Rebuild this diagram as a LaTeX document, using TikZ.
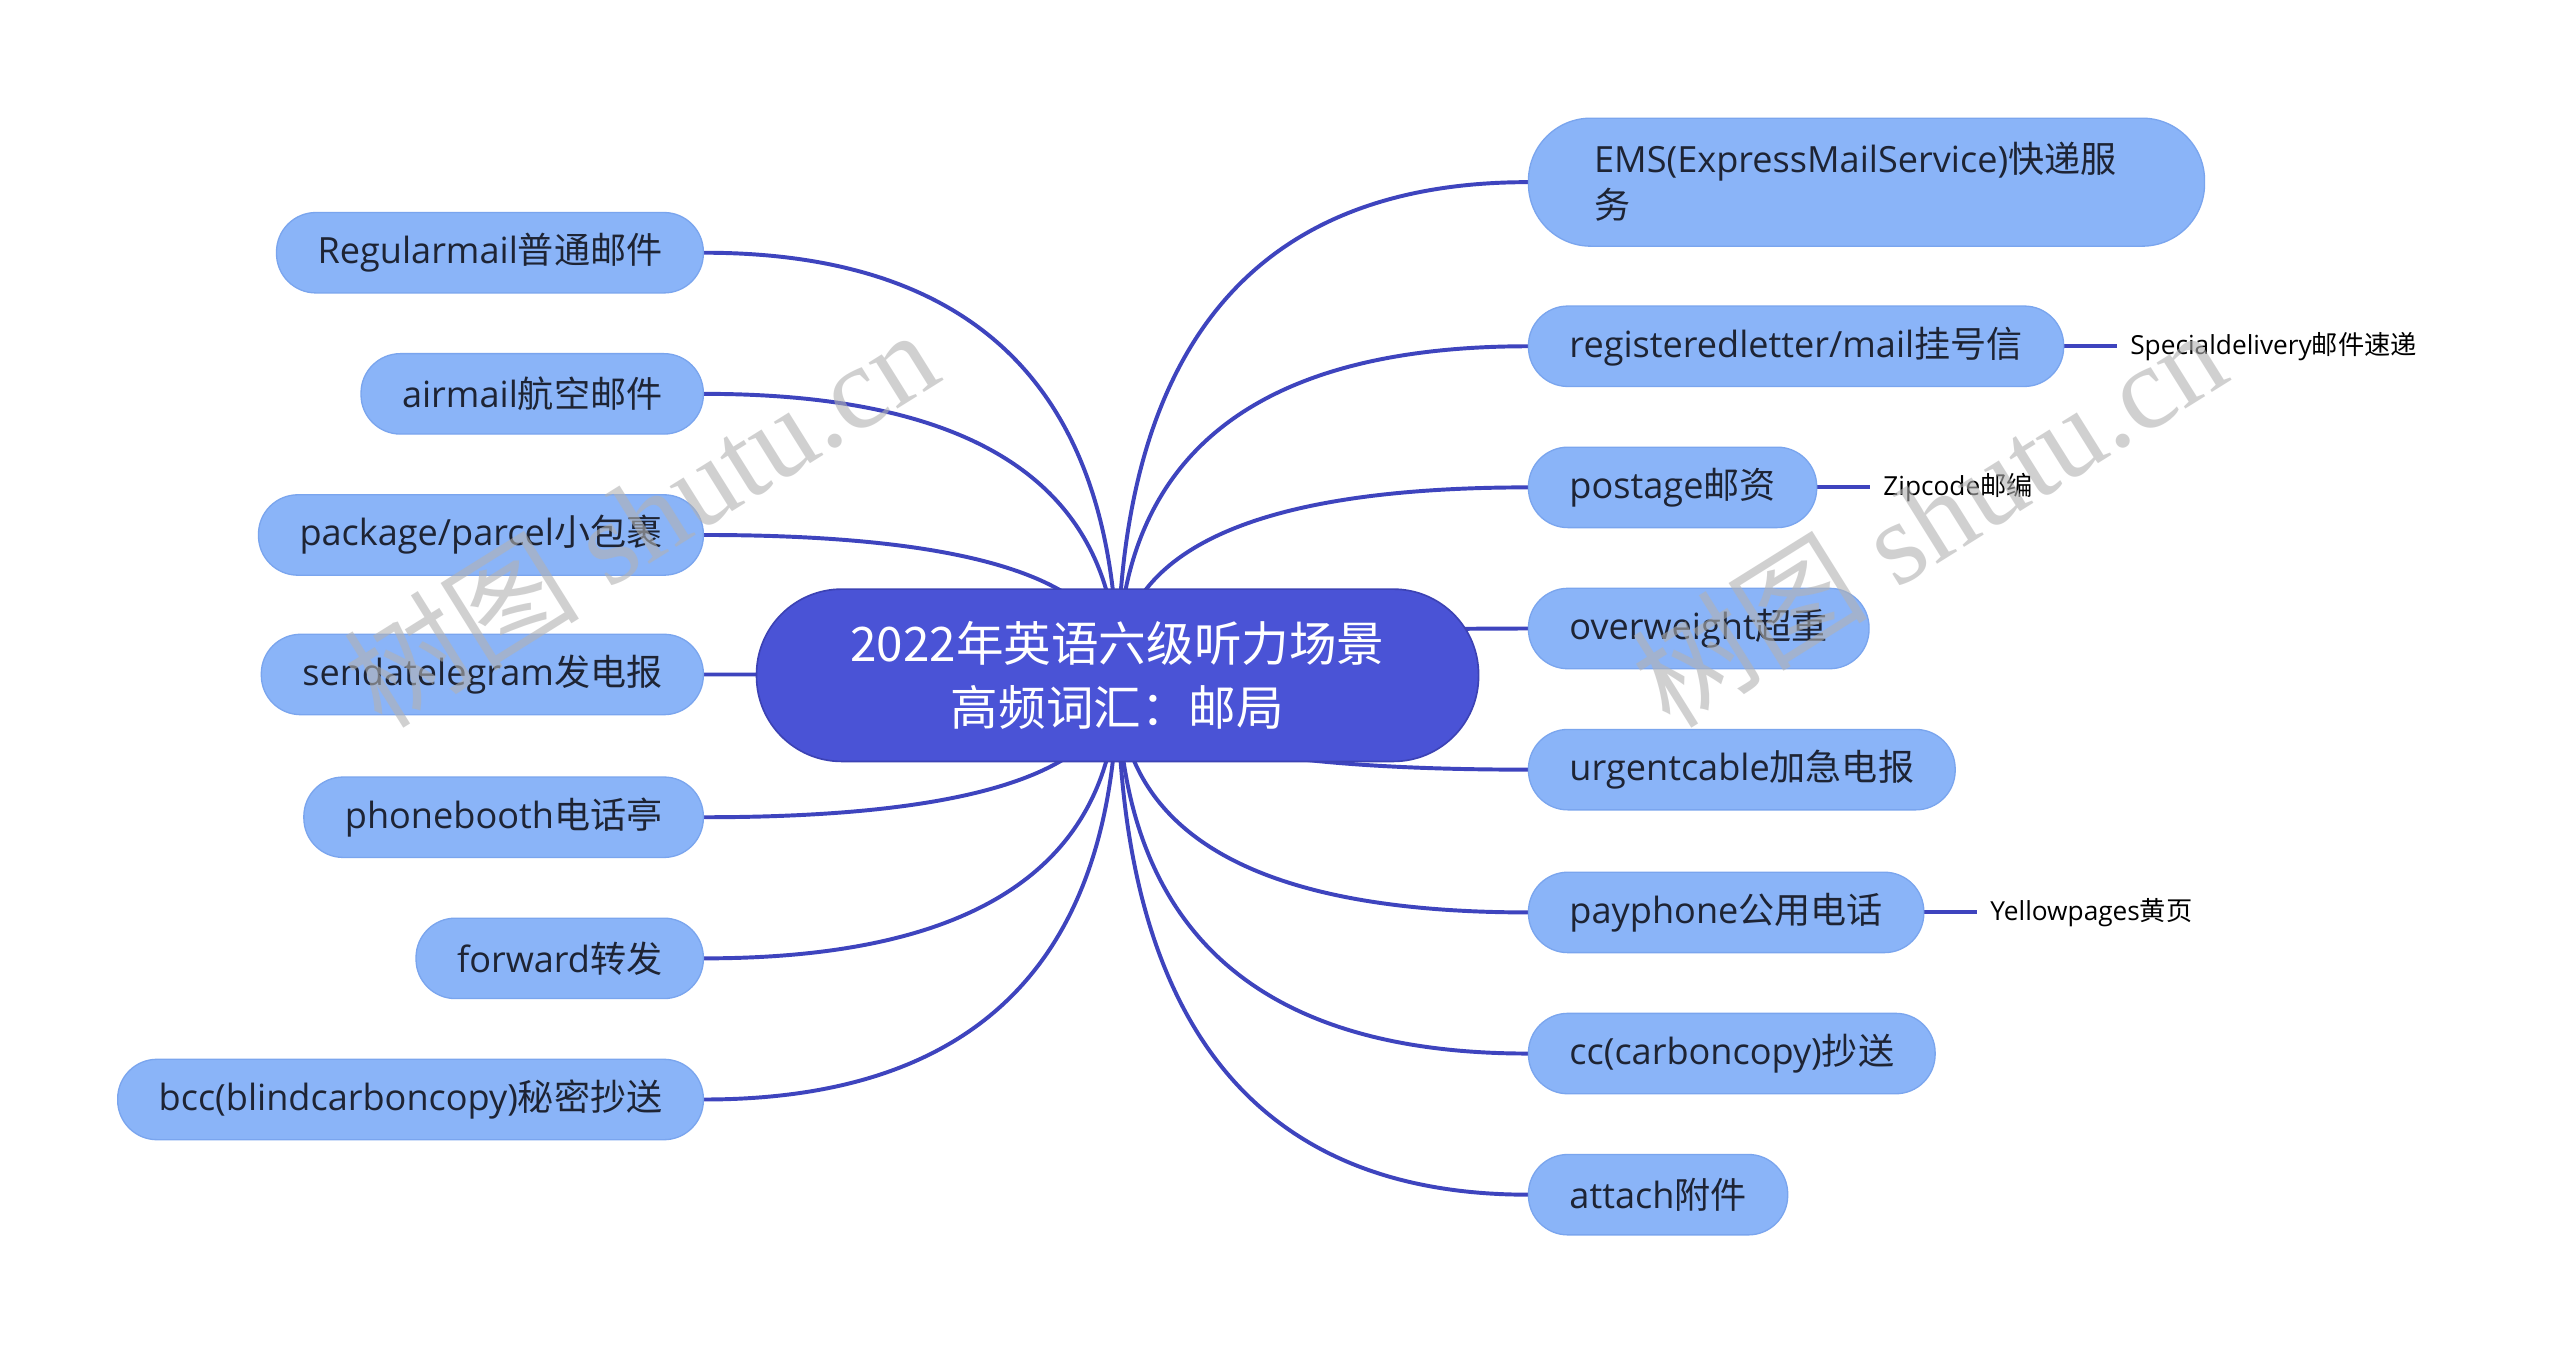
\documentclass[tikz,border=0pt]{standalone}
\usepackage{fontspec}
\setmainfont{Open Sans}
\newfontfamily\cjk{Noto Sans CJK SC}
\newfontfamily\markfont{Liberation Serif}
\usepackage{xcolor}
\usetikzlibrary{positioning,calc,backgrounds}

\definecolor{centrefill}{RGB}{74,83,214}
\definecolor{centreedge}{RGB}{60,66,180}
\definecolor{topicfill}{RGB}{138,180,248}
\definecolor{topicedge}{RGB}{122,165,238}
\definecolor{linkblue}{RGB}{62,68,190}
\definecolor{inkdark}{RGB}{30,36,52}

\newcommand{\zh}[1]{{\cjk #1}}

\begin{document}
\begin{tikzpicture}[x=1pt, y=-1pt]
    \tikzstyle{centre} = [rectangle, draw=centreedge, line width=1pt, fill=centrefill,
        text=white, align=center, minimum width=440pt, minimum height=105pt,
        rounded corners=52pt, font=\fontsize{29}{39}\selectfont]
    \tikzstyle{topic} = [rectangle, draw=topicedge, line width=0.8pt, fill=topicfill,
        text=inkdark, minimum height=49pt, inner xsep=25pt, inner ysep=0pt,
        rounded corners=24pt, font=\fontsize{22}{28}\selectfont]
    \tikzstyle{note} = [inner xsep=8pt, text=black, font=\fontsize{16}{20}\selectfont]
    \tikzstyle{line} = [draw=linkblue, line width=2.4pt]
    \tikzstyle{stamp} = [text=black!30, opacity=0.6, rotate=32,
        font=\fontsize{72}{72}\selectfont]

    \useasboundingbox (0,0) rectangle (1560,822);

    % main topic
    \node [centre] (centre) at (681,411.5) {\zh{2022年英语六级听力场景}\\\zh{高频词汇：邮局}};

    % left branches
    \node [topic, anchor=east] (l1) at (429,154) {Regularmail\zh{普通邮件}};
    \node [topic, anchor=east] (l2) at (429,240) {airmail\zh{航空邮件}};
    \node [topic, anchor=east] (l3) at (429,326) {package/parcel\zh{小包裹}};
    \node [topic, anchor=east] (l4) at (429,411) {sendatelegram\zh{发电报}};
    \node [topic, anchor=east] (l5) at (429,498) {phonebooth\zh{电话亭}};
    \node [topic, anchor=east] (l6) at (429,584) {forward\zh{转发}};
    \node [topic, anchor=east] (l7) at (429,670) {bcc(blindcarboncopy)\zh{秘密抄送}};

    % right branches
    \node [topic, anchor=west, minimum height=78pt, rounded corners=38pt,
        inner xsep=40pt, text width=332pt, align=left] (r1) at (931,111)
        {EMS(ExpressMailService)\zh{快递服}\\\zh{务}};
    \node [topic, anchor=west] (r2) at (931,211) {registeredletter/mail\zh{挂号信}};
    \node [topic, anchor=west] (r3) at (931,297) {postage\zh{邮资}};
    \node [topic, anchor=west] (r4) at (931,383) {overweight\zh{超重}};
    \node [topic, anchor=west] (r5) at (931,469) {urgentcable\zh{加急电报}};
    \node [topic, anchor=west] (r6) at (931,556) {payphone\zh{公用电话}};
    \node [topic, anchor=west] (r7) at (931,642) {cc(carboncopy)\zh{抄送}};
    \node [topic, anchor=west] (r8) at (931,728) {attach\zh{附件}};

    % notes
    \node [note, right=32pt of r2] (n2) {Specialdelivery\zh{邮件速递}};
    \node [note, right=32pt of r3] (n3) {Zipcode\zh{邮编}};
    \node [note, right=32pt of r6] (n6) {Yellowpages\zh{黄页}};

    \begin{scope}[on background layer]
        \fill [white] (0,0) rectangle (1560,822);
        \foreach \n in {l1,l2,l3,l4,l5,l6,l7} {
            \coordinate (k) at (centre.center |- \n.east);
            \path [line] (centre.center) .. controls ($(centre.center)!2/3!(k)$)
                and ($(\n.east)!2/3!(k)$) .. (\n.east);
        }
        \foreach \n in {r1,r2,r3,r4,r5,r6,r7,r8} {
            \coordinate (k) at (centre.center |- \n.west);
            \path [line] (centre.center) .. controls ($(centre.center)!2/3!(k)$)
                and ($(\n.west)!2/3!(k)$) .. (\n.west);
        }
        \path [line] (r2) -- (n2);
        \path [line] (r3) -- (n3);
        \path [line] (r6) -- (n6);
    \end{scope}

    % watermarks
    \node [stamp] (wm1) at (390,315) {\zh{树图} \markfont shutu.cn};
    \node [stamp] (wm2) at (1175,315) {\zh{树图} \markfont shutu.cn};
\end{tikzpicture}
\end{document}
